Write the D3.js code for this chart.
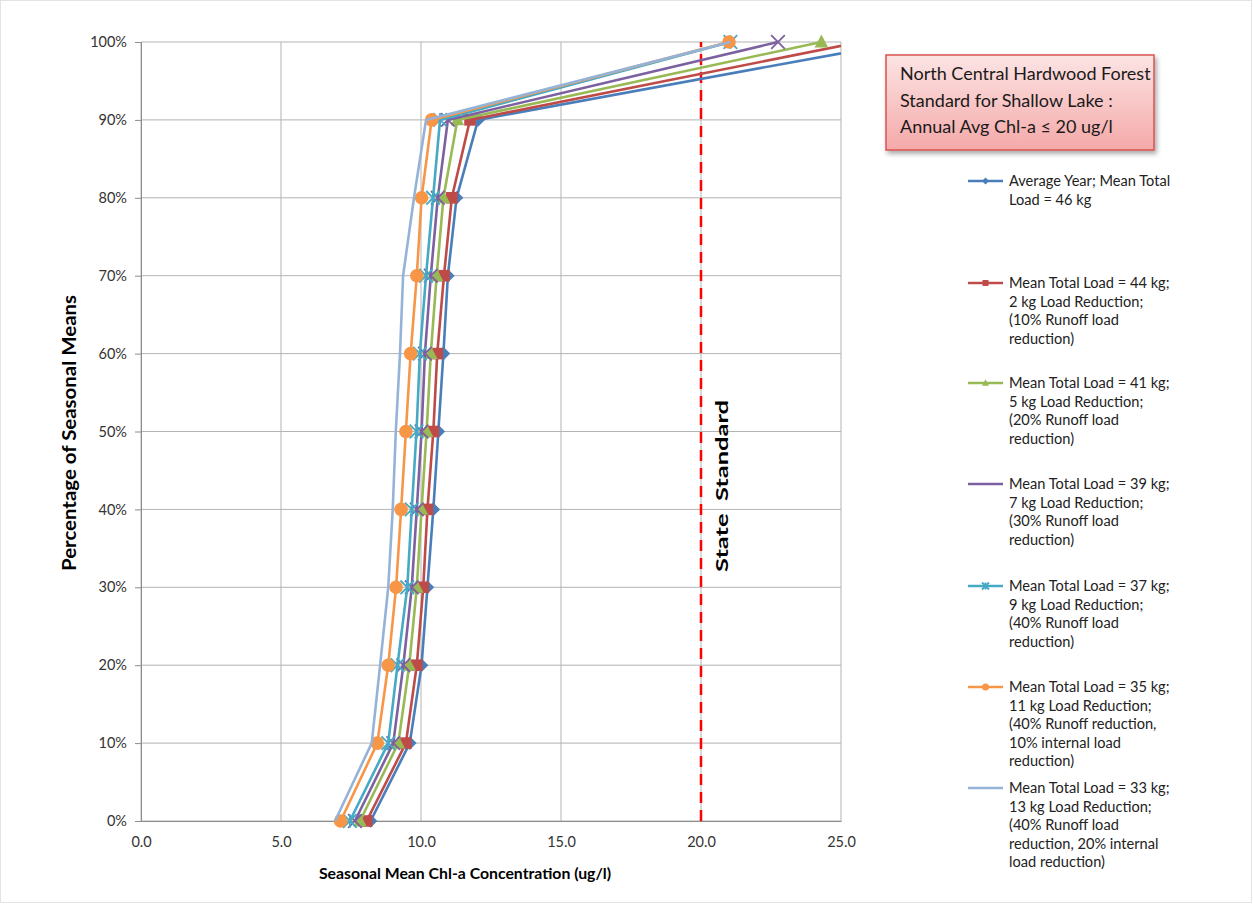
<!DOCTYPE html>
<html><head><meta charset="utf-8">
<script src="https://cdn.jsdelivr.net/npm/d3@7"></script>
<style>body{margin:0;background:#fff}svg{display:block}</style>
</head><body><svg id="c" width="1253" height="904"></svg>
<script>
const percentiles = [0,10,20,30,40,50,60,70,80,90,100];
const seriesNames = [
  ["Average Year; Mean Total","Load = 46 kg"],
  ["Mean Total Load = 44 kg;","2 kg Load Reduction;","(10% Runoff load","reduction)"],
  ["Mean Total Load = 41 kg;","5 kg Load Reduction;","(20% Runoff load","reduction)"],
  ["Mean Total Load = 39 kg;","7 kg Load Reduction;","(30% Runoff load","reduction)"],
  ["Mean Total Load = 37 kg;","9 kg Load Reduction;","(40% Runoff load","reduction)"],
  ["Mean Total Load = 35 kg;","11 kg Load Reduction;","(40% Runoff reduction,","10% internal load","reduction)"],
  ["Mean Total Load = 33 kg;","13 kg Load Reduction;","(40% Runoff load","reduction, 20% internal","load reduction)"]
];
const load46 = [8.20, 9.60, 10.02, 10.23, 10.44, 10.62, 10.80, 10.96, 11.27, 12.04, 27.2];
const load44 = [8.06, 9.46, 9.85, 10.08, 10.23, 10.44, 10.58, 10.82, 11.10, 11.75, 25.7];
const load41 = [7.82, 9.19, 9.58, 9.85, 10.02, 10.20, 10.35, 10.56, 10.80, 11.30, 24.3];
const load39 = [7.64, 9.01, 9.37, 9.67, 9.85, 10.02, 10.14, 10.35, 10.60, 10.96, 22.75];
const load37 = [7.46, 8.83, 9.16, 9.51, 9.67, 9.84, 9.96, 10.18, 10.43, 10.68, 21.05];
const load35 = [7.13, 8.44, 8.83, 9.11, 9.29, 9.46, 9.63, 9.85, 10.02, 10.38, 21.0];
const load33 = [6.93, 8.24, 8.54, 8.83, 8.99, 9.10, 9.25, 9.36, 9.75, 10.18, 21.05];
const xTicks = [0,5,10,15,20,25];
const yTicks = [0,10,20,30,40,50,60,70,80,90,100];
const stateStandard = 20;
const noteLines = ["North Central Hardwood Forest","Standard for Shallow Lake :","Annual Avg Chl-a \u2264 20 ug/l"];

const allSeries = [load46, load44, load41, load39, load37, load35, load33];
const colors = ["#4A7EBB","#BE4B48","#98B954","#7D60A0","#46AAC5","#F79646","#95B3D7"];
const markers = ["diamond","square","triangle","x","star","circle","none"];

const svg = d3.select("#c");
const FONT = "Lato, 'Open Sans', sans-serif";
const x = d3.scaleLinear().domain([0,25]).range([141,841]);
const y = d3.scaleLinear().domain([0,100]).range([821,42]);

// outer frame
svg.append("rect").attr("x",0.5).attr("y",0.5).attr("width",1251).attr("height",902)
  .attr("fill","#fff").attr("stroke","#e3e3e3");

// gridlines
svg.append("g").selectAll("line").data(yTicks).join("line")
  .attr("x1",x(0)).attr("x2",x(25)).attr("y1",d=>y(d)).attr("y2",d=>y(d))
  .attr("stroke","#b3b3b3").attr("stroke-width",1);
svg.append("g").selectAll("line").data(xTicks).join("line")
  .attr("x1",d=>x(d)).attr("x2",d=>x(d)).attr("y1",y(0)).attr("y2",y(100))
  .attr("stroke","#b3b3b3").attr("stroke-width",1);

// axes
const yAxis = d3.axisLeft(y).tickValues(yTicks).tickFormat(d=>d+"%").tickSize(6).tickPadding(8);
const gy = svg.append("g").attr("transform",`translate(${x(0)},0)`).call(yAxis);
const xAxis = d3.axisBottom(x).tickValues(xTicks).tickFormat(d3.format(".1f")).tickSize(0).tickPadding(16);
const gx = svg.append("g").attr("transform",`translate(0,${y(0)})`).call(xAxis);
[gy,gx].forEach(g=>{
  g.select(".domain").attr("stroke","#8c8c8c");
  g.selectAll(".tick line").attr("stroke","#8c8c8c");
  g.selectAll("text").attr("font-family",FONT).attr("font-size",14.5).attr("fill","#333");
});

// state standard line
svg.append("line").attr("x1",x(stateStandard)).attr("x2",x(stateStandard))
  .attr("y1",y(0)).attr("y2",y(100))
  .attr("stroke","#FF0000").attr("stroke-width",2.5).attr("stroke-dasharray","11,7");
svg.append("text").attr("transform",`translate(${x(stateStandard)+27},486) rotate(-90)`)
  .attr("text-anchor","middle").attr("font-family",FONT).attr("font-weight","bold")
  .attr("font-size",17).attr("fill","#000").attr("xml:space","preserve")
  .attr("textLength",172).attr("lengthAdjust","spacingAndGlyphs").text("State  Standard");

// clip
svg.append("clipPath").attr("id","clip").append("rect")
  .attr("x",x(0)).attr("y",0).attr("width",x(25)-x(0)).attr("height",904);

function drawMarker(g, type, cx, cy, color, s){
  switch(type){
    case "diamond":
      g.append("path").attr("d",`M${cx},${cy-s}L${cx+s},${cy}L${cx},${cy+s}L${cx-s},${cy}Z`).attr("fill",color); break;
    case "square":
      g.append("rect").attr("x",cx-s*0.85).attr("y",cy-s*0.85).attr("width",s*1.7).attr("height",s*1.7).attr("fill",color); break;
    case "triangle":
      g.append("path").attr("d",`M${cx},${cy-s*1.1}L${cx+s},${cy+s*0.8}L${cx-s},${cy+s*0.8}Z`).attr("fill",color); break;
    case "x":
      g.append("path").attr("d",`M${cx-s},${cy-s}L${cx+s},${cy+s}M${cx-s},${cy+s}L${cx+s},${cy-s}`).attr("stroke",color).attr("stroke-width",1.8).attr("fill","none"); break;
    case "star":
      g.append("path").attr("d",`M${cx-s},${cy-s}L${cx+s},${cy+s}M${cx-s},${cy+s}L${cx+s},${cy-s}M${cx},${cy-s}L${cx},${cy+s}`).attr("stroke",color).attr("stroke-width",1.8).attr("fill","none"); break;
    case "circle":
      g.append("circle").attr("cx",cx).attr("cy",cy).attr("r",s).attr("fill",color); break;
    default: break;
  }
}

const line = d3.line().x(d=>x(d[0])).y(d=>y(d[1]));
const plot = svg.append("g").attr("clip-path","url(#clip)");
allSeries.forEach((vals,i)=>{
  const pts = vals.map((v,j)=>[v,percentiles[j]]);
  const g = plot.append("g");
  g.append("path").attr("d",line(pts)).attr("fill","none").attr("stroke",colors[i])
    .attr("stroke-width",2.6).attr("stroke-linejoin","round");
  pts.forEach(p=>drawMarker(g, markers[i], x(p[0]), y(p[1]), colors[i], 6.8));
});

// axis titles
svg.append("text").attr("transform","translate(76,433) rotate(-90)").attr("text-anchor","middle")
  .attr("font-family",FONT).attr("font-weight","bold").attr("font-size",18).attr("fill","#000")
  .attr("textLength",276).attr("lengthAdjust","spacingAndGlyphs")
  .text("Percentage of Seasonal Means");
svg.append("text").attr("x",465).attr("y",879).attr("text-anchor","middle")
  .attr("font-family",FONT).attr("font-weight","bold").attr("font-size",15.8).attr("fill","#000")
  .text("Seasonal Mean Chl-a Concentration (ug/l)");

// note box
const defs = svg.append("defs");
const grad = defs.append("linearGradient").attr("id","pink").attr("x1",0).attr("y1",0).attr("x2",0).attr("y2",1);
grad.append("stop").attr("offset","0%").attr("stop-color","#FCE4E4");
grad.append("stop").attr("offset","100%").attr("stop-color","#F5A9A9");
const flt = defs.append("filter").attr("id","shadow").attr("x","-10%").attr("y","-10%").attr("width","130%").attr("height","140%");
flt.append("feDropShadow").attr("dx",2).attr("dy",3).attr("stdDeviation",2.5).attr("flood-color","#000").attr("flood-opacity",0.35);
svg.append("rect").attr("x",886).attr("y",55).attr("width",268).attr("height",95)
  .attr("fill","url(#pink)").attr("stroke","#D9534F").attr("stroke-width",1.5).attr("filter","url(#shadow)");
svg.append("g").selectAll("text").data(noteLines).join("text")
  .attr("x",900).attr("y",(d,i)=>80+i*26.5).attr("font-family",FONT).attr("font-size",18).attr("fill","#1a1a1a")
  .text(d=>d);

// legend
const legendY = [181,283,383,484,586,687,788];
const legendMarkers = ["diamond","square","triangle","none","star","circle","none"];
seriesNames.forEach((lines,i)=>{
  const g = svg.append("g");
  const ly = legendY[i];
  g.append("line").attr("x1",968).attr("x2",1003).attr("y1",ly).attr("y2",ly)
    .attr("stroke",colors[i]).attr("stroke-width",2.6);
  drawMarker(g, legendMarkers[i], 985.5, ly, colors[i], 3.5);
  lines.forEach((t,k)=>{
    g.append("text").attr("x",1009).attr("y",ly+5+k*18.5).attr("font-family",FONT)
      .attr("font-size",14.6).attr("fill","#222").text(t);
  });
});
</script></body></html>
